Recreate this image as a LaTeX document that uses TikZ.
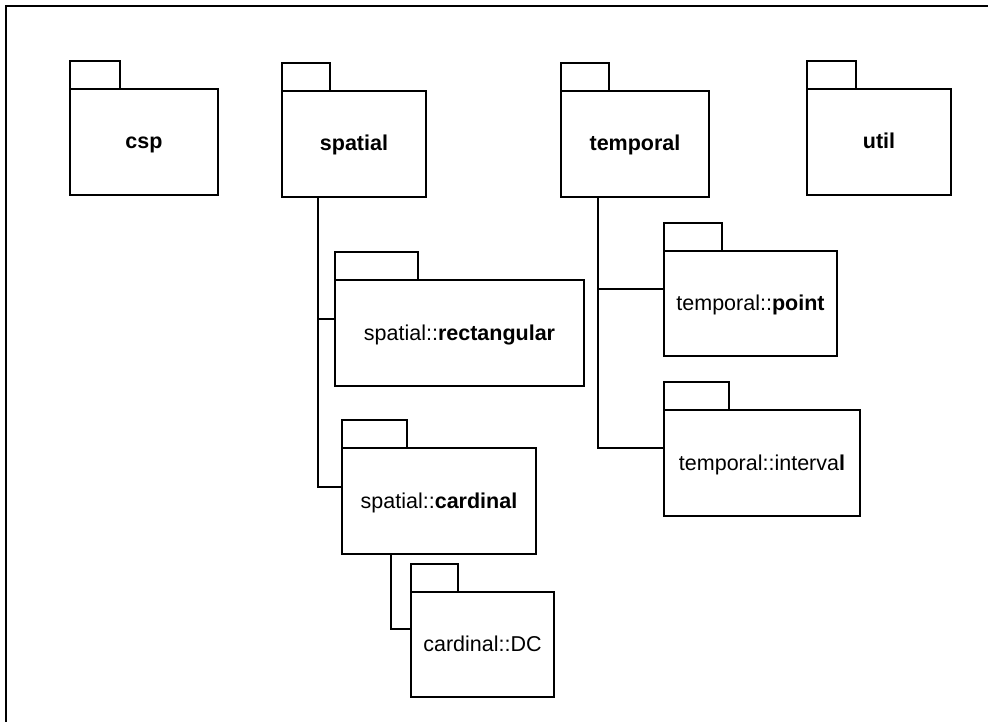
\documentclass[tikz,border=0pt]{standalone}
\usepackage{fontspec}
\setmainfont{Liberation Sans}
\usepackage{tikz}
\usetikzlibrary{positioning}

% tab on top of a package box: node name, tab width
\newcommand{\pkgtab}[2]{\draw[tabline] (#1.north west) rectangle ++(#2,-28);}

\begin{document}
\begin{tikzpicture}[x=1pt,y=-1pt,
  pkg/.style={draw, line width=1.6pt, inner sep=0pt, outer sep=0pt,
    minimum height=106pt, text height=15pt, text depth=1pt,
    font=\fontsize{21.5}{25}\selectfont},
  tabline/.style={line width=1.6pt},
  link/.style={line width=1.6pt},
  frame/.style={line width=2.2pt}]
  \useasboundingbox (0,0) rectangle (988,722);
  \draw[frame] (6,740) |- (1000,6);

  % top level packages
  \node[pkg, minimum width=148pt] (csp) at (144,142) {\textbf{csp}};
  \node[pkg, minimum width=144pt] (spatial) at (354,144) {\textbf{spatial}};
  \node[pkg, minimum width=148pt] (temporal) at (635,144) {\textbf{temporal}};
  \node[pkg, minimum width=144pt] (util) at (879,142) {\textbf{util}};
  \pkgtab{csp}{50}
  \pkgtab{spatial}{48}
  \pkgtab{temporal}{48}
  \pkgtab{util}{49}

  % sub packages
  \node[pkg, minimum width=249pt] (rect) at (459.5,333) {spatial::\textbf{rectangular}};
  \node[pkg, minimum width=194pt] (cardinal) at (439,501) {spatial::\textbf{cardinal}};
  \node[pkg, minimum width=143pt, minimum height=105pt] (dc) at (482.5,644.5) {cardinal::DC};
  \node[pkg, minimum width=173pt, minimum height=105pt] (point) at (750.5,303.5) {temporal::\textbf{point}};
  \node[pkg, minimum width=196pt] (interval) at (762,463) {temporal::interva\textbf{l}};
  \pkgtab{rect}{83}
  \pkgtab{cardinal}{65}
  \pkgtab{dc}{47}
  \pkgtab{point}{58}
  \pkgtab{interval}{65}

  % containment links
  \draw[link] ([xshift=36pt]spatial.south west) |- ([yshift=-39pt]rect.north west);
  \draw[link] ([xshift=36pt]spatial.south west) |- ([yshift=-39pt]cardinal.north west);
  \draw[link] ([xshift=49pt]cardinal.south west) |- ([yshift=-37pt]dc.north west);
  \draw[link] ([xshift=37pt]temporal.south west) |- ([yshift=-38pt]point.north west);
  \draw[link] ([xshift=37pt]temporal.south west) |- ([yshift=-38pt]interval.north west);
\end{tikzpicture}
\end{document}
